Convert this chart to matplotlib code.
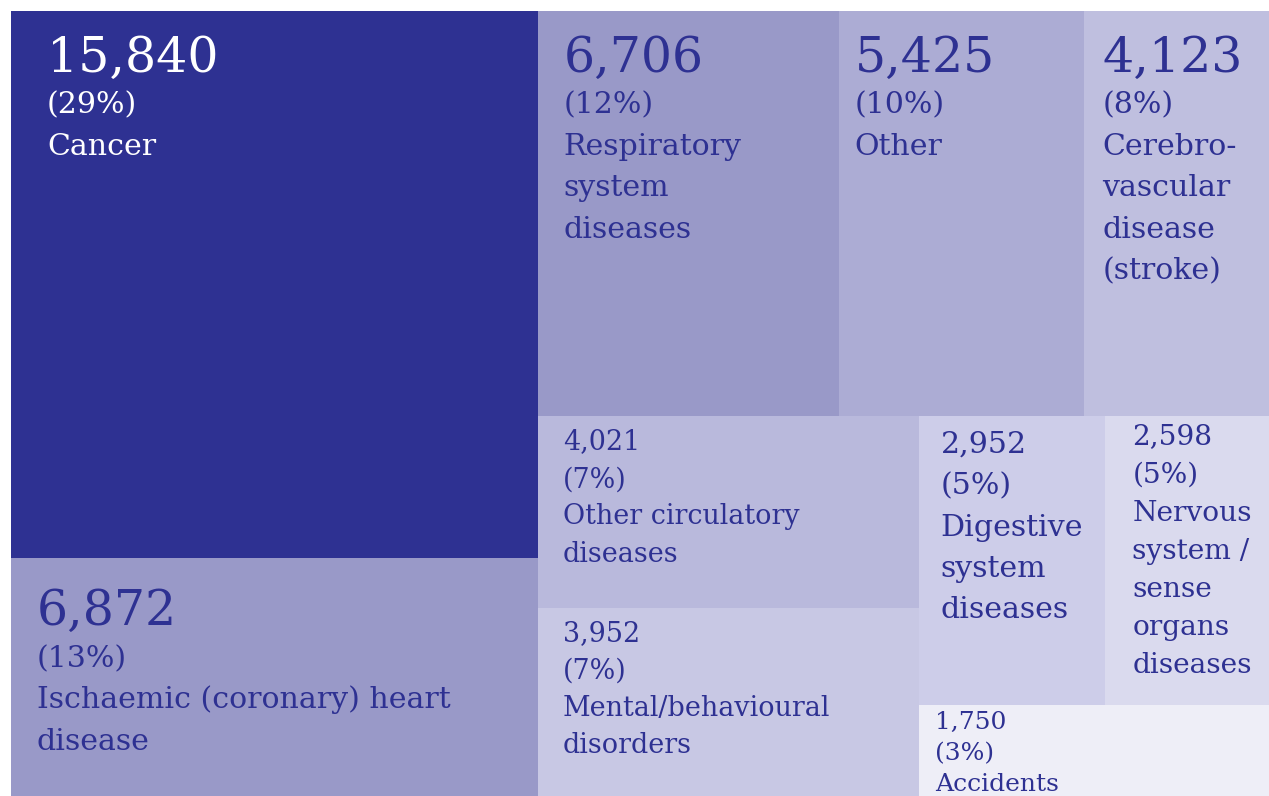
import matplotlib
matplotlib.use("Agg")
import matplotlib.pyplot as plt
from matplotlib.patches import Rectangle

# ---- data ----
names = ["Cancer", "Ischaemic (coronary) heart\ndisease", "Respiratory\nsystem\ndiseases",
         "Other", "Cerebro-\nvascular\ndisease\n(stroke)", "Other circulatory\ndiseases",
         "Mental/behavioural\ndisorders", "Digestive\nsystem\ndiseases",
         "Nervous\nsystem /\nsense\norgans\ndiseases", "Accidents"]
values = [15840, 6872, 6706, 5425, 4123, 4021, 3952, 2952, 2598, 1750]
percents = [29, 13, 12, 10, 8, 7, 7, 5, 5, 3]

# ---- style ----
colors = ["#2e3192", "#9999c8", "#9999c8", "#acacd4", "#bfbfdf", "#b9b9dc",
          "#c8c8e4", "#cdcde9", "#dadaee", "#eeeef7"]
text_colors = ["white"] + ["#2e3192"] * 9
num_px = [49, 49, 49, 49, 49, 27, 27, 30, 28, 25]
txt_px = [30, 30, 30, 30, 30, 27, 27, 30, 28, 25]
line_f = [1.38, 1.38, 1.38, 1.38, 1.38, 1.38, 1.38, 1.38, 1.36, 1.24]
pad_x = [36, 26, 26, 15, 19, 25, 25, 21, 27, 16]
pad_y = [14, 20, 14, 14, 14, 8, 8, 8, 2, 0]

# slice layout tree: ('h' = side by side, 'v' = stacked), leaves are indices
tree = ('h', [('v', [0, 1]),
              ('v', [('h', [2, 3, 4]),
                     ('h', [('v', [5, 6]),
                            ('v', [('h', [7, 8]), 9])])])])


def total(node):
    if isinstance(node, int):
        return values[node]
    return sum(total(c) for c in node[1])


rects = {}


def layout(node, x, y, w, h):
    if isinstance(node, int):
        rects[node] = (x, y, w, h)
        return
    orient, kids = node
    s = total(node)
    for k in kids:
        f = total(k) / s
        if orient == 'h':
            layout(k, x, y, w * f, h)
            x += w * f
        else:
            layout(k, x, y, w, h * f)
            y += h * f


W, H = 1269, 796
X0, Y0 = 11, 11
layout(tree, X0, Y0, W - X0, H - Y0)

fig = plt.figure(figsize=(W / 100, H / 100), dpi=100)
ax = fig.add_axes([0, 0, 1, 1])
ax.set_xlim(0, W)
ax.set_ylim(H, 0)
ax.axis("off")

PT = 0.72
for i in range(len(values)):
    x, y, w, h = rects[i]
    ax.add_patch(Rectangle((x, y), w, h, facecolor=colors[i], edgecolor="none"))
    tx = x + pad_x[i]
    by = y + pad_y[i] + num_px[i] * 0.95
    ax.text(tx, by, f"{values[i]:,}", fontsize=num_px[i] * PT, color=text_colors[i],
            family="DejaVu Serif", va="baseline", ha="left")
    by += txt_px[i] * (line_f[i] + 0.02)
    ax.text(tx, by, f"({percents[i]}%)", fontsize=txt_px[i] * PT, color=text_colors[i],
            family="DejaVu Serif", va="baseline", ha="left")
    for line in names[i].split("\n"):
        by += txt_px[i] * line_f[i]
        ax.text(tx, by, line, fontsize=txt_px[i] * PT, color=text_colors[i],
                family="DejaVu Serif", va="baseline", ha="left")

fig.savefig("out.png", dpi=100, facecolor="white")
